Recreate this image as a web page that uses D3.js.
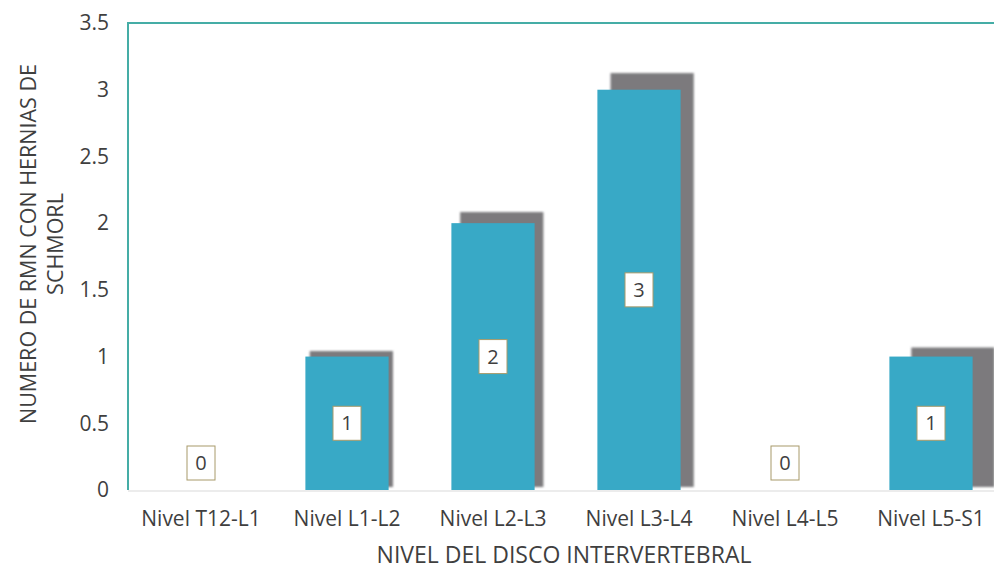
<!DOCTYPE html>
<html>
<head>
<meta charset="utf-8">
<script src="https://cdn.jsdelivr.net/npm/d3@7"></script>
<style>
  html, body { margin: 0; padding: 0; background: #ffffff; }
  svg { display: block; }
  text { font-family: "Open Sans", Lato, sans-serif; fill: #3f3f3f; }
</style>
</head>
<body>
<svg id="chart" width="994" height="573"></svg>
<script>
// Disc levels and number of MRI studies with Schmorl nodes at each
const categories = ["Nivel T12-L1", "Nivel L1-L2", "Nivel L2-L3", "Nivel L3-L4", "Nivel L4-L5", "Nivel L5-S1"];
const values = [0, 1, 2, 3, 0, 1];
const yTicks = [0, 0.5, 1, 1.5, 2, 2.5, 3, 3.5];
const yTitleLines = ["NUMERO DE RMN CON HERNIAS DE", "SCHMORL"];
const xTitle = "NIVEL DEL DISCO INTERVERTEBRAL";

const FONT = "'Open Sans', Lato, sans-serif";
const svg = d3.select("#chart");
const plot = { left: 128, top: 23, right: 1004, bottom: 490 };

const x = d3.scaleBand()
  .domain(categories)
  .range([plot.left, plot.right])
  .paddingInner(0.43)
  .paddingOuter(0.215);

const y = d3.scaleLinear()
  .domain([0, 3.5])
  .range([plot.bottom, plot.top]);

const defs = svg.append("defs");
defs.append("filter").attr("id", "soft")
  .attr("x", "-10%").attr("y", "-10%").attr("width", "120%").attr("height", "120%")
  .append("feGaussianBlur").attr("stdDeviation", 1.2);

// light baseline
svg.append("line")
  .attr("x1", plot.left).attr("x2", 994)
  .attr("y1", y(0) + 1).attr("y2", y(0) + 1)
  .attr("stroke", "#d9d9d9").attr("stroke-width", 1);

// Y axis (labels only)
const yAxis = d3.axisLeft(y).tickValues(yTicks).tickSize(0).tickPadding(0)
  .tickFormat(d => String(d));
const gy = svg.append("g")
  .attr("transform", `translate(${plot.left - 19},0)`)
  .call(yAxis);
gy.select(".domain").remove();
gy.selectAll("text")
  .style("font-family", FONT)
  .style("font-size", "21px")
  .attr("fill", "#3f3f3f");

// X axis (category labels only)
const xAxis = d3.axisBottom(x).tickSize(0).tickPadding(0);
const gx = svg.append("g")
  .attr("transform", `translate(0,${plot.bottom + 21})`)
  .call(xAxis);
gx.select(".domain").remove();
gx.selectAll("text")
  .style("font-family", FONT)
  .style("font-size", "21px")
  .attr("fill", "#3f3f3f");

// Perspective shadow behind each bar
const cx0 = x(categories[0]) + x.bandwidth() / 2;
const shadowDx = d => 0.03 * (x(d.cat) + x.bandwidth() / 2 - cx0);
const shadowDy = d => 0.035 * (y(0) - y(d.val)) + 0.006 * (x(d.cat) + x.bandwidth() / 2 - cx0);
const data = categories.map((c, i) => ({ cat: c, val: values[i] }));

svg.append("g").selectAll("rect")
  .data(data.filter(d => d.val > 0))
  .join("rect")
  .attr("x", d => x(d.cat) + shadowDx(d))
  .attr("y", d => y(d.val) - shadowDy(d))
  .attr("width", x.bandwidth())
  .attr("height", d => y(0) - 3 - (y(d.val) - shadowDy(d)))
  .attr("fill", "#7b7a7d")
  .attr("filter", "url(#soft)");

// Bars
svg.append("g").selectAll("rect")
  .data(data)
  .join("rect")
  .attr("x", d => x(d.cat))
  .attr("y", d => y(d.val))
  .attr("width", x.bandwidth())
  .attr("height", d => y(0) - y(d.val))
  .attr("fill", "#38a9c6");

// Plot frame: teal left and top edges
svg.append("path")
  .attr("d", `M${plot.left},${plot.bottom}V${plot.top}H994`)
  .attr("fill", "none")
  .attr("stroke", "#45ada6")
  .attr("stroke-width", 2);

// Value labels in small boxes
const lbl = svg.append("g").selectAll("g")
  .data(data)
  .join("g")
  .attr("transform", d => {
    const cx = x(d.cat) + x.bandwidth() / 2;
    const cy = d.val > 0 ? (y(d.val) + y(0)) / 2 : y(0) - 27;
    return `translate(${cx},${cy})`;
  });
lbl.append("rect")
  .attr("x", -14).attr("y", -17)
  .attr("width", 28).attr("height", 34)
  .attr("fill", "#ffffff")
  .attr("stroke", "#a89a6a")
  .attr("stroke-width", 1);
lbl.append("text")
  .attr("text-anchor", "middle")
  .attr("dy", "0.36em")
  .style("font-size", "20px")
  .text(d => d.val);

// Axis titles
const yt = svg.append("text")
  .attr("transform", "translate(28,244) rotate(-90)")
  .attr("text-anchor", "middle")
  .style("font-size", "21.5px");
yt.selectAll("tspan")
  .data(yTitleLines)
  .join("tspan")
  .attr("x", 0)
  .attr("y", (d, i) => i * 27)
  .attr("dy", "0.35em")
  .text(d => d);

svg.append("text")
  .attr("x", 564).attr("y", 563)
  .attr("text-anchor", "middle")
  .style("font-size", "23px")
  .text(xTitle);
</script>
</body>
</html>
